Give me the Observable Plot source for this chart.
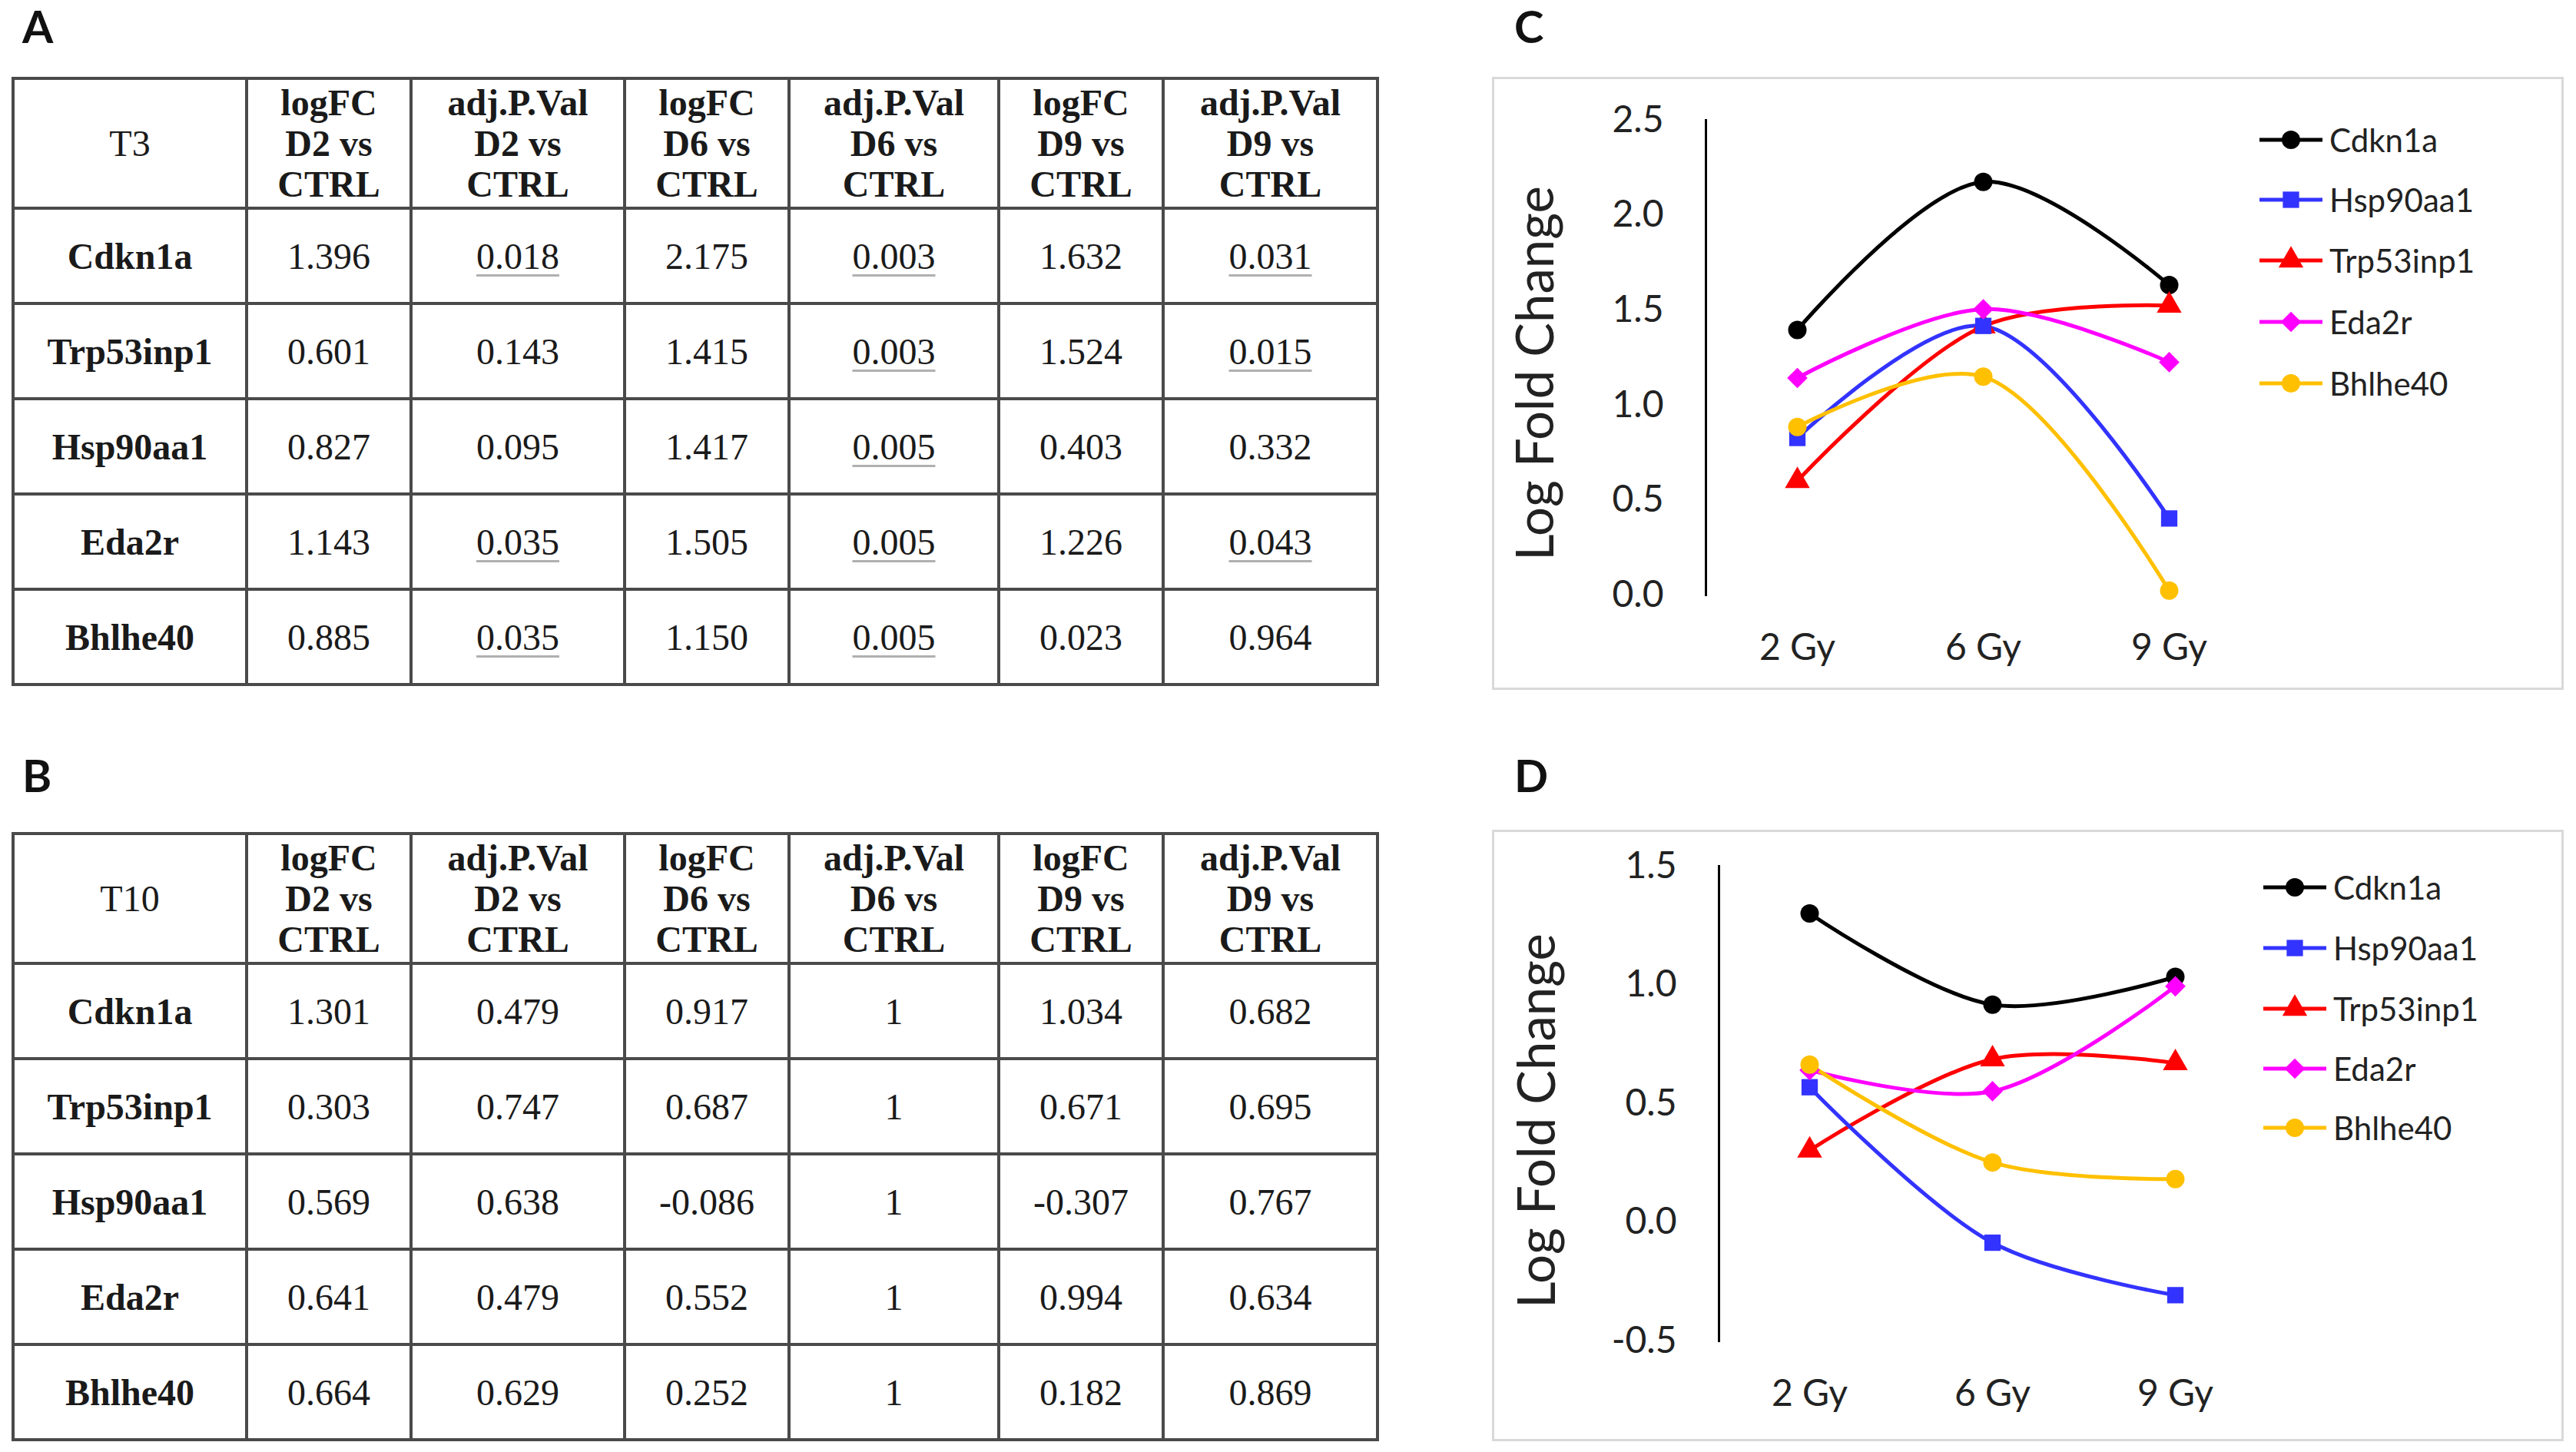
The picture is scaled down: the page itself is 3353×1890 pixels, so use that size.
<!DOCTYPE html>
<html>
<head>
<meta charset="utf-8">
<script src="https://cdn.jsdelivr.net/npm/d3@7"></script>
<script src="https://cdn.jsdelivr.net/npm/@observablehq/plot@0.6"></script>
<style>
  html, body { margin: 0; padding: 0; background: #fff; }
  #root { position: relative; width: 3353px; height: 1890px; overflow: hidden; background: #fff; }
  .panel-label { position: absolute; font-family: Lato, "Open Sans", sans-serif; font-weight: 700; font-size: 58px; line-height: 1; color: #111; }
  table.res { position: absolute; border-collapse: collapse; table-layout: fixed; font-family: "Liberation Serif", "Times New Roman", serif; font-size: 48px; color: #1a1a1a; }
  table.res td, table.res th { border: 4px solid #4a4a4a; text-align: center; vertical-align: middle; padding: 0; }
  table.res th { font-weight: 700; line-height: 53px; }
  table.res th.corner { font-weight: 400; }
  table.res td.gene { font-weight: 700; }
  .sig { text-decoration: underline; text-decoration-color: #b0b0b0; text-decoration-thickness: 3px; text-underline-offset: 7px; }
  .chartbox { position: absolute; border: 3px solid #d9d9d9; background: #fff; box-sizing: border-box; }
  .chartbox svg.plot { position: absolute; left: 0; top: 0; }
  .ytitle { position: absolute; font-family: Lato, "Open Sans", sans-serif; font-size: 67px; line-height: 1; color: #222; white-space: nowrap; transform: translate(-50%, -50%) rotate(-90deg); }
  .legend { position: absolute; font-family: Lato, "Open Sans", sans-serif; font-size: 42px; color: #222; }
  .legend .item { position: absolute; left: 0; height: 60px; white-space: nowrap; }
  .legend .item svg { position: absolute; left: 0; top: 0; }
  .legend .item span { position: absolute; top: 0; line-height: 60px; }
</style>
</head>
<body>
<div id="root"></div>
<script>
// ---------------- DATA ----------------
const genes = ["Cdkn1a", "Trp53inp1", "Hsp90aa1", "Eda2r", "Bhlhe40"];
const days = ["D2", "D6", "D9"];
const doses = ["2 Gy", "6 Gy", "9 Gy"];
const legendOrder = ["Cdkn1a", "Hsp90aa1", "Trp53inp1", "Eda2r", "Bhlhe40"];
const geneColors = ["#000000", "#3333FF", "#FF0000", "#FF00FF", "#FFC000"];
const geneSymbols = ["circle", "square", "triangle", "diamond2", "circle"];

// Table A (T3)
const t3LogFC_D2 = [1.396, 0.601, 0.827, 1.143, 0.885];
const t3AdjP_D2  = [0.018, 0.143, 0.095, 0.035, 0.035];
const t3LogFC_D6 = [2.175, 1.415, 1.417, 1.505, 1.150];
const t3AdjP_D6  = [0.003, 0.003, 0.005, 0.005, 0.005];
const t3LogFC_D9 = [1.632, 1.524, 0.403, 1.226, 0.023];
const t3AdjP_D9  = [0.031, 0.015, 0.332, 0.043, 0.964];

// Table B (T10)
const t10LogFC_D2 = [1.301, 0.303, 0.569, 0.641, 0.664];
const t10AdjP_D2  = [0.479, 0.747, 0.638, 0.479, 0.629];
const t10LogFC_D6 = [0.917, 0.687, -0.086, 0.552, 0.252];
const t10AdjP_D6  = [1, 1, 1, 1, 1];
const t10LogFC_D9 = [1.034, 0.671, -0.307, 0.994, 0.182];
const t10AdjP_D9  = [0.682, 0.695, 0.767, 0.634, 0.869];

const yTicksC = [0, 0.5, 1.0, 1.5, 2.0, 2.5];
const yTicksD = [-0.5, 0, 0.5, 1.0, 1.5];
const yTitle = "Log Fold Change";

// ---------------- HELPERS ----------------
const root = document.getElementById("root");
const fmtVal = v => (v === 1 ? "1" : v.toFixed(3));

function panelLabel(txt, left, top) {
  const d = document.createElement("div");
  d.className = "panel-label";
  d.textContent = txt;
  d.style.left = left + "px";
  d.style.top = top + "px";
  root.appendChild(d);
}

function buildTable(corner, cols, left, top, headH, rowH) {
  const widths = [304, 214, 278, 214, 273, 214, 279];
  const table = document.createElement("table");
  table.className = "res";
  table.style.left = left + "px";
  table.style.top = top + "px";
  table.style.width = d3.sum(widths) + "px";
  const cg = document.createElement("colgroup");
  widths.forEach(w => { const c = document.createElement("col"); c.style.width = w + "px"; cg.appendChild(c); });
  table.appendChild(cg);
  const hr = document.createElement("tr");
  hr.style.height = headH + "px";
  const c0 = document.createElement("th"); c0.className = "corner"; c0.textContent = corner; hr.appendChild(c0);
  days.forEach(dd => {
    ["logFC", "adj.P.Val"].forEach(kind => {
      const th = document.createElement("th");
      th.innerHTML = `${kind}<br>${dd} vs<br>CTRL`;
      hr.appendChild(th);
    });
  });
  table.appendChild(hr);
  genes.forEach((g, i) => {
    const tr = document.createElement("tr");
    tr.style.height = rowH + "px";
    const tg = document.createElement("td"); tg.className = "gene"; tg.textContent = g; tr.appendChild(tg);
    cols.forEach(([lfc, p]) => {
      const a = document.createElement("td"); a.textContent = fmtVal(lfc[i]); tr.appendChild(a);
      const b = document.createElement("td");
      const s = document.createElement("span"); s.textContent = fmtVal(p[i]);
      if (p[i] < 0.05) s.className = "sig";
      b.appendChild(s); tr.appendChild(b);
    });
    table.appendChild(tr);
  });
  root.appendChild(table);
}

function buildChart(cols, yDomain, yTicks, box, m, titlePos, legendPos) {
  const div = document.createElement("div");
  div.className = "chartbox";
  Object.assign(div.style, { left: box.left + "px", top: box.top + "px", width: box.w + "px", height: box.h + "px" });
  const data = [];
  genes.forEach((g, i) => {
    doses.forEach((dz, j) => data.push({ gene: g, dose: dz, value: cols[j][i] }));
  });
  const W = box.w - 6, H = box.h - 6;
  const chart = Plot.plot({
    width: W, height: H,
    marginLeft: m.left, marginRight: W - m.right, marginTop: m.top, marginBottom: H - m.bottom,
    style: { fontFamily: "Lato, 'Open Sans', sans-serif", fontSize: "48px", color: "#222", background: "transparent", overflow: "visible" },
    x: { type: "point", domain: doses, padding: 0.49, label: null },
    y: { domain: yDomain, label: null },
    color: { domain: legendOrder, range: geneColors },
    symbol: { domain: legendOrder, range: geneSymbols },
    marks: [
      Plot.axisX({ tickSize: 0, tickPadding: 50, fontSize: 48, label: null }),
      Plot.axisY({ ticks: yTicks, tickFormat: d => d.toFixed(1), tickSize: 0, tickPadding: 55, fontSize: 48, label: null }),
      Plot.frame({ anchor: "left", stroke: "#000", strokeWidth: 3, strokeOpacity: 1 }),
      Plot.line(data, { x: "dose", y: "value", z: "gene", stroke: "gene", strokeWidth: 5, curve: "catmull-rom" }),
      Plot.dot(data, { x: "dose", y: "value", symbol: "gene", fill: "gene", stroke: "none", r: 12 })
    ]
  });
  chart.classList.add("plot");
  div.appendChild(chart);

  // y-axis title
  const t = document.createElement("div");
  t.className = "ytitle";
  t.textContent = yTitle;
  t.style.left = titlePos.x + "px";
  t.style.top = titlePos.y + "px";
  div.appendChild(t);

  // legend
  const leg = document.createElement("div");
  leg.className = "legend";
  leg.style.left = legendPos.left + "px";
  leg.style.top = "0px";
  const symMap = { circle: d3.symbolCircle, square: d3.symbolSquare, triangle: d3.symbolTriangle, diamond2: d3.symbolDiamond2 };
  legendOrder.forEach((g, k) => {
    const it = document.createElement("div");
    it.className = "item";
    it.style.top = (legendPos.rows[k] - 30) + "px";
    const svg = d3.create("svg").attr("width", 84).attr("height", 60);
    svg.append("line").attr("x1", 0).attr("x2", 82).attr("y1", 30).attr("y2", 30)
      .attr("stroke", geneColors[k]).attr("stroke-width", 5);
    svg.append("path").attr("transform", "translate(41,30)")
      .attr("d", d3.symbol(symMap[geneSymbols[k]], Math.PI * 12 * 12)())
      .attr("fill", geneColors[k]);
    it.appendChild(svg.node());
    const sp = document.createElement("span");
    sp.style.left = "91px";
    sp.textContent = g;
    it.appendChild(sp);
    leg.appendChild(it);
  });
  div.appendChild(leg);
  root.appendChild(div);
}

// ---------------- BUILD ----------------
panelLabel("A", 29, 5);
panelLabel("B", 29, 980);
panelLabel("C", 1971, 5);
panelLabel("D", 1971, 980);

buildTable("T3", [[t3LogFC_D2, t3AdjP_D2], [t3LogFC_D6, t3AdjP_D6], [t3LogFC_D9, t3AdjP_D9]], 15, 100, 169, 124);
buildTable("T10", [[t10LogFC_D2, t10AdjP_D2], [t10LogFC_D6, t10AdjP_D6], [t10LogFC_D9, t10AdjP_D9]], 15, 1083, 169, 124);

buildChart([t3LogFC_D2, t3LogFC_D6, t3LogFC_D9], [0, 2.5], yTicksC,
  { left: 1942, top: 100, w: 1395, h: 798 },
  { left: 275, right: 997, top: 53, bottom: 671 },
  { x: 51, y: 383 },
  { left: 996, rows: [79, 157, 236, 316, 396] });

buildChart([t10LogFC_D2, t10LogFC_D6, t10LogFC_D9], [-0.5, 1.5], yTicksD,
  { left: 1942, top: 1080, w: 1395, h: 796 },
  { left: 292, right: 1004, top: 44, bottom: 662 },
  { x: 53, y: 376 },
  { left: 1001, rows: [72, 151, 230, 308, 385] });
</script>
</body>
</html>
